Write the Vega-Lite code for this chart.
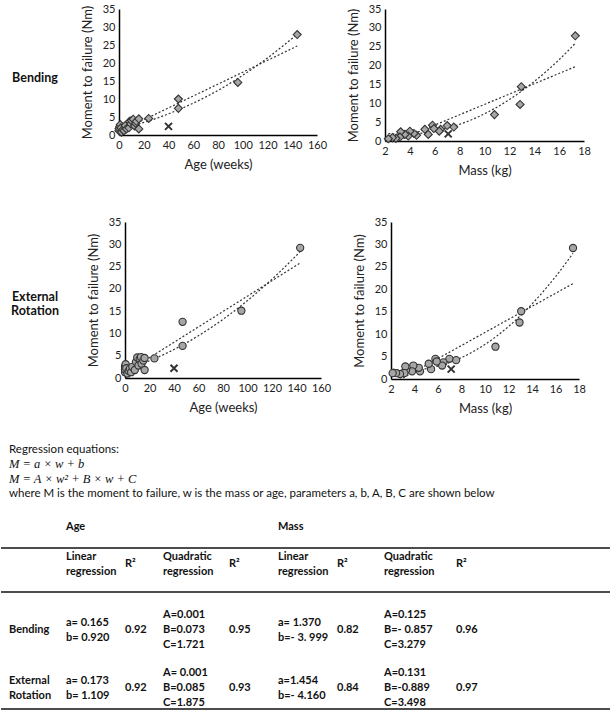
{
  "$schema": "https://vega.github.io/schema/vega-lite/v6.json",
  "background": "white",
  "padding": {"top": 3, "left": 0, "right": 0, "bottom": 0},
  "config": {
    "view": {"stroke": null},
    "font": "Lato",
    "axis": {"domainColor": "#000", "domainWidth": 1.5, "ticks": false, "grid": false, "labelFont": "Lato", "labelFontSize": 11, "labelColor": "#222", "labelOverlap": false, "labelFlush": false, "titleFont": "Lato", "titleFontSize": 13, "titleFontWeight": "normal", "titleColor": "#222", "labelPadding": 4},
    "axisX": {"titlePadding": 8},
    "axisY": {"titlePadding": 8}
  },
  "datasets": {
    "bendAge": [
      {"age": 0, "M": 1.2, "kind": "normal"}, {"age": 0, "M": 1.8, "kind": "normal"}, {"age": 0.5, "M": 2.3, "kind": "normal"},
      {"age": 1, "M": 2.9, "kind": "normal"}, {"age": 1.5, "M": 2.0, "kind": "normal"}, {"age": 2, "M": 0.8, "kind": "normal"},
      {"age": 3, "M": 1.5, "kind": "normal"}, {"age": 4, "M": 1.2, "kind": "normal"}, {"age": 5, "M": 2.6, "kind": "normal"},
      {"age": 6, "M": 1.7, "kind": "normal"}, {"age": 8, "M": 2.0, "kind": "normal"}, {"age": 8.5, "M": 3.8, "kind": "normal"},
      {"age": 9.5, "M": 3.1, "kind": "normal"}, {"age": 10, "M": 4.0, "kind": "normal"}, {"age": 11.5, "M": 4.4, "kind": "normal"},
      {"age": 12.5, "M": 2.5, "kind": "normal"}, {"age": 13.5, "M": 3.2, "kind": "normal"}, {"age": 14, "M": 3.8, "kind": "normal"},
      {"age": 16, "M": 4.5, "kind": "normal"}, {"age": 16, "M": 1.7, "kind": "normal"}, {"age": 24, "M": 4.6, "kind": "normal"},
      {"age": 48, "M": 10.0, "kind": "normal"}, {"age": 48, "M": 7.4, "kind": "normal"}, {"age": 96, "M": 14.6, "kind": "normal"},
      {"age": 144, "M": 27.9, "kind": "normal"}, {"age": 40, "M": 2.4, "kind": "outlier"}
    ],
    "bendAgeFit": [
      {"fit": "linear", "age": 0, "M": 0.92}, {"fit": "linear", "age": 144, "M": 24.7},
      {"fit": "quadratic", "age": 0, "M": 1.72}, {"fit": "quadratic", "age": 24, "M": 3.9}, {"fit": "quadratic", "age": 48, "M": 7.0},
      {"fit": "quadratic", "age": 72, "M": 10.9}, {"fit": "quadratic", "age": 96, "M": 15.7}, {"fit": "quadratic", "age": 120, "M": 21.4},
      {"fit": "quadratic", "age": 144, "M": 28.0}
    ],
    "bendMass": [
      {"mass": 17.3, "M": 27.9, "kind": "normal"}, {"mass": 12.96, "M": 14.4, "kind": "normal"}, {"mass": 12.86, "M": 9.7, "kind": "normal"},
      {"mass": 10.8, "M": 7.0, "kind": "normal"}, {"mass": 7.53, "M": 3.7, "kind": "normal"}, {"mass": 7.0, "M": 4.1, "kind": "normal"},
      {"mass": 6.47, "M": 3.1, "kind": "normal"}, {"mass": 6.36, "M": 2.6, "kind": "normal"}, {"mass": 5.82, "M": 4.2, "kind": "normal"},
      {"mass": 5.93, "M": 3.3, "kind": "normal"}, {"mass": 5.48, "M": 1.75, "kind": "normal"}, {"mass": 5.2, "M": 3.1, "kind": "normal"},
      {"mass": 4.54, "M": 1.5, "kind": "normal"}, {"mass": 4.33, "M": 2.0, "kind": "normal"}, {"mass": 4.0, "M": 2.6, "kind": "normal"},
      {"mass": 3.87, "M": 1.3, "kind": "normal"}, {"mass": 3.6, "M": 1.75, "kind": "normal"}, {"mass": 3.26, "M": 2.45, "kind": "normal"},
      {"mass": 3.2, "M": 1.05, "kind": "normal"}, {"mass": 2.88, "M": 0.7, "kind": "normal"}, {"mass": 2.6, "M": 0.9, "kind": "normal"},
      {"mass": 2.27, "M": 0.6, "kind": "normal"}, {"mass": 7.08, "M": 1.9, "kind": "outlier"}
    ],
    "bendMassFit": [
      {"fit": "linear", "mass": 2.27, "M": -0.89}, {"fit": "linear", "mass": 17.3, "M": 19.7},
      {"fit": "quadratic", "mass": 2.27, "M": 1.98}, {"fit": "quadratic", "mass": 3, "M": 1.83}, {"fit": "quadratic", "mass": 4, "M": 1.85},
      {"fit": "quadratic", "mass": 6, "M": 2.64}, {"fit": "quadratic", "mass": 8, "M": 4.42}, {"fit": "quadratic", "mass": 10, "M": 7.21},
      {"fit": "quadratic", "mass": 12, "M": 11.0}, {"fit": "quadratic", "mass": 14, "M": 15.78}, {"fit": "quadratic", "mass": 16, "M": 21.57},
      {"fit": "quadratic", "mass": 17.3, "M": 25.9}
    ],
    "erAge": [
      {"age": 0, "M": 1.3, "kind": "normal"}, {"age": 0, "M": 1.9, "kind": "normal"}, {"age": 0, "M": 2.6, "kind": "normal"},
      {"age": 0.5, "M": 3.1, "kind": "normal"}, {"age": 1, "M": 2.2, "kind": "normal"}, {"age": 2, "M": 1.0, "kind": "normal"},
      {"age": 3, "M": 1.6, "kind": "normal"}, {"age": 4, "M": 2.1, "kind": "normal"}, {"age": 5, "M": 1.3, "kind": "normal"},
      {"age": 6, "M": 2.5, "kind": "normal"}, {"age": 8, "M": 1.8, "kind": "normal"}, {"age": 9, "M": 3.6, "kind": "normal"},
      {"age": 10, "M": 4.6, "kind": "normal"}, {"age": 11, "M": 2.8, "kind": "normal"}, {"age": 12, "M": 4.3, "kind": "normal"},
      {"age": 13, "M": 4.7, "kind": "normal"}, {"age": 13.5, "M": 3.2, "kind": "normal"}, {"age": 15, "M": 3.9, "kind": "normal"},
      {"age": 16, "M": 4.5, "kind": "normal"}, {"age": 16, "M": 1.8, "kind": "normal"}, {"age": 24, "M": 4.4, "kind": "normal"},
      {"age": 47, "M": 12.6, "kind": "normal"}, {"age": 47, "M": 7.2, "kind": "normal"}, {"age": 95, "M": 15.1, "kind": "normal"},
      {"age": 143, "M": 29.2, "kind": "normal"}, {"age": 40, "M": 2.2, "kind": "outlier"}
    ],
    "erAgeFit": [
      {"fit": "linear", "age": 0, "M": 1.11}, {"fit": "linear", "age": 143, "M": 25.8},
      {"fit": "quadratic", "age": 0, "M": 1.88}, {"fit": "quadratic", "age": 24, "M": 4.32}, {"fit": "quadratic", "age": 48, "M": 7.57},
      {"fit": "quadratic", "age": 72, "M": 11.63}, {"fit": "quadratic", "age": 96, "M": 16.49}, {"fit": "quadratic", "age": 120, "M": 22.16},
      {"fit": "quadratic", "age": 143, "M": 28.35}
    ],
    "erMass": [
      {"mass": 17.49, "M": 29.2, "kind": "normal"}, {"mass": 13.08, "M": 15.1, "kind": "normal"}, {"mass": 12.94, "M": 12.6, "kind": "normal"},
      {"mass": 10.89, "M": 7.2, "kind": "normal"}, {"mass": 7.54, "M": 4.2, "kind": "normal"}, {"mass": 6.97, "M": 4.5, "kind": "normal"},
      {"mass": 6.46, "M": 3.7, "kind": "normal"}, {"mass": 6.35, "M": 3.0, "kind": "normal"}, {"mass": 5.78, "M": 4.5, "kind": "normal"},
      {"mass": 5.89, "M": 3.9, "kind": "normal"}, {"mass": 5.41, "M": 2.2, "kind": "normal"}, {"mass": 5.21, "M": 3.4, "kind": "normal"},
      {"mass": 4.47, "M": 1.7, "kind": "normal"}, {"mass": 4.36, "M": 2.5, "kind": "normal"}, {"mass": 3.9, "M": 3.0, "kind": "normal"},
      {"mass": 3.79, "M": 1.7, "kind": "normal"}, {"mass": 3.28, "M": 2.0, "kind": "normal"}, {"mass": 3.22, "M": 2.8, "kind": "normal"},
      {"mass": 3.14, "M": 1.3, "kind": "normal"}, {"mass": 2.77, "M": 1.1, "kind": "normal"}, {"mass": 2.43, "M": 1.3, "kind": "normal"},
      {"mass": 2.14, "M": 1.3, "kind": "normal"}, {"mass": 7.12, "M": 2.2, "kind": "outlier"}
    ],
    "erMassFit": [
      {"fit": "linear", "mass": 2.14, "M": -1.05}, {"fit": "linear", "mass": 17.49, "M": 21.27},
      {"fit": "quadratic", "mass": 2.14, "M": 2.2}, {"fit": "quadratic", "mass": 3, "M": 2.01}, {"fit": "quadratic", "mass": 4, "M": 2.04},
      {"fit": "quadratic", "mass": 6, "M": 2.88}, {"fit": "quadratic", "mass": 8, "M": 4.77}, {"fit": "quadratic", "mass": 10, "M": 7.71},
      {"fit": "quadratic", "mass": 12, "M": 11.7}, {"fit": "quadratic", "mass": 14, "M": 16.73}, {"fit": "quadratic", "mass": 16, "M": 22.81},
      {"fit": "quadratic", "mass": 17.49, "M": 28.0}
    ],
    "tableText": [
      {"part": "para", "row": 0, "col": 0, "text": "Regression equations:"},
      {"part": "eq", "row": 1, "col": 0, "text": "M = a × w + b"},
      {"part": "eq", "row": 2, "col": 0, "text": "M = A × w² + B × w + C"},
      {"part": "para", "row": 3, "col": 0, "text": "where M is the moment to failure, w is the mass or age, parameters a, b, A, B, C are shown below"},
      {"part": "cell", "row": 4, "col": 1, "text": "Age"},
      {"part": "cell", "row": 4, "col": 5, "text": "Mass"},
      {"part": "cell", "row": 6, "col": 1, "text": "Linear\nregression"},
      {"part": "cell", "row": 6, "col": 2, "text": "R²"},
      {"part": "cell", "row": 6, "col": 3, "text": "Quadratic\nregression"},
      {"part": "cell", "row": 6, "col": 4, "text": "R²"},
      {"part": "cell", "row": 6, "col": 5, "text": "Linear\nregression"},
      {"part": "cell", "row": 6, "col": 6, "text": "R²"},
      {"part": "cell", "row": 6, "col": 7, "text": "Quadratic\nregression"},
      {"part": "cell", "row": 6, "col": 8, "text": "R²"},
      {"part": "cell", "row": 8, "col": 0, "text": "Bending"},
      {"part": "cell", "row": 8, "col": 1, "text": "a= 0.165\nb= 0.920"},
      {"part": "cell", "row": 8, "col": 2, "text": "0.92"},
      {"part": "cell", "row": 8, "col": 3, "text": "A=0.001\nB=0.073\nC=1.721"},
      {"part": "cell", "row": 8, "col": 4, "text": "0.95"},
      {"part": "cell", "row": 8, "col": 5, "text": "a= 1.370\nb=- 3. 999"},
      {"part": "cell", "row": 8, "col": 6, "text": "0.82"},
      {"part": "cell", "row": 8, "col": 7, "text": "A=0.125\nB=- 0.857\nC=3.279"},
      {"part": "cell", "row": 8, "col": 8, "text": "0.96"},
      {"part": "cell", "row": 9, "col": 0, "text": "External\nRotation"},
      {"part": "cell", "row": 9, "col": 1, "text": "a= 0.173\nb= 1.109"},
      {"part": "cell", "row": 9, "col": 2, "text": "0.92"},
      {"part": "cell", "row": 9, "col": 3, "text": "A= 0.001\nB=0.085\nC=1.875"},
      {"part": "cell", "row": 9, "col": 4, "text": "0.93"},
      {"part": "cell", "row": 9, "col": 5, "text": "a=1.454\nb=- 4.160"},
      {"part": "cell", "row": 9, "col": 6, "text": "0.84"},
      {"part": "cell", "row": 9, "col": 7, "text": "A=0.131\nB=-0.889\nC=3.498"},
      {"part": "cell", "row": 9, "col": 8, "text": "0.97"}
    ],
    "tableRules": [{"row": 5}, {"row": 7}, {"row": 10}]
  },
  "spacing": 23,
  "vconcat": [
    {
      "spacing": 39,
      "vconcat": [
        {
          "spacing": 20,
          "hconcat": [
            {
              "spacing": 18,
              "hconcat": [
                {
                  "width": 62, "height": 138,
                  "data": {"values": [{"label": "Bending"}]},
                  "mark": {"type": "text", "font": "Lato", "fontSize": 12.5, "fontWeight": "bold", "dx": 3, "color": "#111"},
                  "encoding": {"text": {"field": "label"}}
                },
                {
                  "width": 198, "height": 126,
                  "encoding": {
                    "x": {"field": "age", "type": "quantitative", "title": "Age (weeks)", "scale": {"domain": [0, 160], "nice": false}, "axis": {"values": [0, 20, 40, 60, 80, 100, 120, 140, 160]}},
                    "y": {"field": "M", "type": "quantitative", "title": "Moment to failure (Nm)", "scale": {"domain": [0, 35], "nice": false}, "axis": {"values": [0, 5, 10, 15, 20, 25, 30, 35]}}
                  },
                  "layer": [
                    {"data": {"name": "bendAgeFit"}, "mark": {"type": "line", "color": "#333", "strokeWidth": 1.2, "strokeDash": [2, 2], "clip": true, "interpolate": "monotone"}, "encoding": {"detail": {"field": "fit"}}},
                    {"data": {"name": "bendAge"}, "transform": [{"filter": "datum.kind == 'normal'"}], "mark": {"type": "point", "shape": "diamond", "filled": true, "fill": "#a6a6a6", "stroke": "#333", "strokeWidth": 1.1, "size": 64, "opacity": 1}},
                    {"data": {"name": "bendAge"}, "transform": [{"filter": "datum.kind == 'outlier'"}], "mark": {"type": "point", "shape": "M-1,-1L1,1M1,-1L-1,1", "filled": false, "stroke": "#333", "strokeWidth": 2, "size": 49, "opacity": 1}}
                  ]
                }
              ]
            },
            {
              "width": 199, "height": 132,
              "encoding": {
                "x": {"field": "mass", "type": "quantitative", "title": "Mass (kg)", "scale": {"domain": [2, 18], "nice": false, "zero": false}, "axis": {"values": [2, 4, 6, 8, 10, 12, 14, 16, 18]}},
                "y": {"field": "M", "type": "quantitative", "title": "Moment to failure (Nm)", "scale": {"domain": [0, 35], "nice": false}, "axis": {"values": [0, 5, 10, 15, 20, 25, 30, 35]}}
              },
              "layer": [
                {"data": {"name": "bendMassFit"}, "mark": {"type": "line", "color": "#333", "strokeWidth": 1.2, "strokeDash": [2, 2], "clip": true, "interpolate": "monotone"}, "encoding": {"detail": {"field": "fit"}}},
                {"data": {"name": "bendMass"}, "transform": [{"filter": "datum.kind == 'normal'"}], "mark": {"type": "point", "shape": "diamond", "filled": true, "fill": "#a6a6a6", "stroke": "#333", "strokeWidth": 1.1, "size": 64, "opacity": 1}},
                {"data": {"name": "bendMass"}, "transform": [{"filter": "datum.kind == 'outlier'"}], "mark": {"type": "point", "shape": "M-1,-1L1,1M1,-1L-1,1", "filled": false, "stroke": "#333", "strokeWidth": 2, "size": 49, "opacity": 1}}
              ]
            }
          ]
        },
        {
          "spacing": 22,
          "hconcat": [
            {
              "spacing": 21,
              "hconcat": [
                {
                  "width": 65, "height": 171,
                  "data": {"values": [{"label": "External\nRotation"}]},
                  "mark": {"type": "text", "font": "Lato", "fontSize": 12.5, "fontWeight": "bold", "dx": 1.5, "dy": -11, "color": "#111", "lineBreak": "\n", "lineHeight": 14},
                  "encoding": {"text": {"field": "label"}}
                },
                {
                  "width": 196, "height": 156,
                  "encoding": {
                    "x": {"field": "age", "type": "quantitative", "title": "Age (weeks)", "scale": {"domain": [0, 160], "nice": false}, "axis": {"values": [0, 20, 40, 60, 80, 100, 120, 140, 160]}},
                    "y": {"field": "M", "type": "quantitative", "title": "Moment to failure (Nm)", "scale": {"domain": [0, 35], "nice": false}, "axis": {"values": [0, 5, 10, 15, 20, 25, 30, 35]}}
                  },
                  "layer": [
                    {"data": {"name": "erAgeFit"}, "mark": {"type": "line", "color": "#333", "strokeWidth": 1.2, "strokeDash": [2, 2], "clip": true, "interpolate": "monotone"}, "encoding": {"detail": {"field": "fit"}}},
                    {"data": {"name": "erAge"}, "transform": [{"filter": "datum.kind == 'normal'"}], "mark": {"type": "point", "shape": "circle", "filled": true, "fill": "#a6a6a6", "stroke": "#333", "strokeWidth": 1.1, "size": 52, "opacity": 1}},
                    {"data": {"name": "erAge"}, "transform": [{"filter": "datum.kind == 'outlier'"}], "mark": {"type": "point", "shape": "M-1,-1L1,1M1,-1L-1,1", "filled": false, "stroke": "#333", "strokeWidth": 2, "size": 49, "opacity": 1}}
                  ]
                }
              ]
            },
            {
              "width": 188, "height": 157,
              "encoding": {
                "x": {"field": "mass", "type": "quantitative", "title": "Mass (kg)", "scale": {"domain": [2, 18], "nice": false, "zero": false}, "axis": {"values": [2, 4, 6, 8, 10, 12, 14, 16, 18]}},
                "y": {"field": "M", "type": "quantitative", "title": "Moment to failure (Nm)", "scale": {"domain": [0, 35], "nice": false}, "axis": {"values": [0, 5, 10, 15, 20, 25, 30, 35]}}
              },
              "layer": [
                {"data": {"name": "erMassFit"}, "mark": {"type": "line", "color": "#333", "strokeWidth": 1.2, "strokeDash": [2, 2], "clip": true, "interpolate": "monotone"}, "encoding": {"detail": {"field": "fit"}}},
                {"data": {"name": "erMass"}, "transform": [{"filter": "datum.kind == 'normal'"}], "mark": {"type": "point", "shape": "circle", "filled": true, "fill": "#a6a6a6", "stroke": "#333", "strokeWidth": 1.1, "size": 52, "opacity": 1}},
                {"data": {"name": "erMass"}, "transform": [{"filter": "datum.kind == 'outlier'"}], "mark": {"type": "point", "shape": "M-1,-1L1,1M1,-1L-1,1", "filled": false, "stroke": "#333", "strokeWidth": 2, "size": 49, "opacity": 1}}
              ]
            }
          ]
        }
      ]
    },
    {
      "width": 610, "height": 273,
      "encoding": {
        "x": {"field": "col", "type": "quantitative", "axis": null, "scale": {"domain": [0, 1, 2, 3, 4, 5, 6, 7, 8], "range": [8, 65, 124, 162, 228, 277, 336, 383, 455], "nice": false, "zero": false}},
        "y": {"field": "row", "type": "quantitative", "axis": null, "scale": {"domain": [0, 1, 2, 3, 4, 5, 6, 7, 8, 9, 10], "range": [12, 26, 41, 56, 89, 110, 126, 154, 192, 250, 271], "nice": false, "zero": false}}
      },
      "layer": [
        {
          "data": {"name": "tableRules"},
          "mark": {"type": "rule", "color": "#4d4d4d", "strokeWidth": 2},
          "encoding": {"x": null}
        },
        {
          "data": {"name": "tableText"},
          "transform": [{"filter": "datum.part == 'para'"}],
          "mark": {"type": "text", "align": "left", "baseline": "middle", "font": "Lato", "fontSize": 11.5, "color": "#111"},
          "encoding": {"text": {"field": "text"}}
        },
        {
          "data": {"name": "tableText"},
          "transform": [{"filter": "datum.part == 'eq'"}],
          "mark": {"type": "text", "align": "left", "baseline": "middle", "font": "Liberation Serif", "fontStyle": "italic", "fontSize": 12.5, "color": "#111"},
          "encoding": {"text": {"field": "text"}}
        },
        {
          "data": {"name": "tableText"},
          "transform": [{"filter": "datum.part == 'cell' && split(datum.text, '\\n').length == 1"}],
          "mark": {"type": "text", "align": "left", "baseline": "middle", "font": "Lato", "fontSize": 11, "fontWeight": "bold", "color": "#111"},
          "encoding": {"text": {"field": "text"}}
        },
        {
          "data": {"name": "tableText"},
          "transform": [{"filter": "datum.part == 'cell' && split(datum.text, '\\n').length == 2"}],
          "mark": {"type": "text", "align": "left", "baseline": "middle", "font": "Lato", "fontSize": 11, "fontWeight": "bold", "color": "#111", "lineBreak": "\n", "lineHeight": 15, "dy": -7.5},
          "encoding": {"text": {"field": "text"}}
        },
        {
          "data": {"name": "tableText"},
          "transform": [{"filter": "datum.part == 'cell' && split(datum.text, '\\n').length == 3"}],
          "mark": {"type": "text", "align": "left", "baseline": "middle", "font": "Lato", "fontSize": 11, "fontWeight": "bold", "color": "#111", "lineBreak": "\n", "lineHeight": 15, "dy": -15},
          "encoding": {"text": {"field": "text"}}
        }
      ]
    }
  ]
}
